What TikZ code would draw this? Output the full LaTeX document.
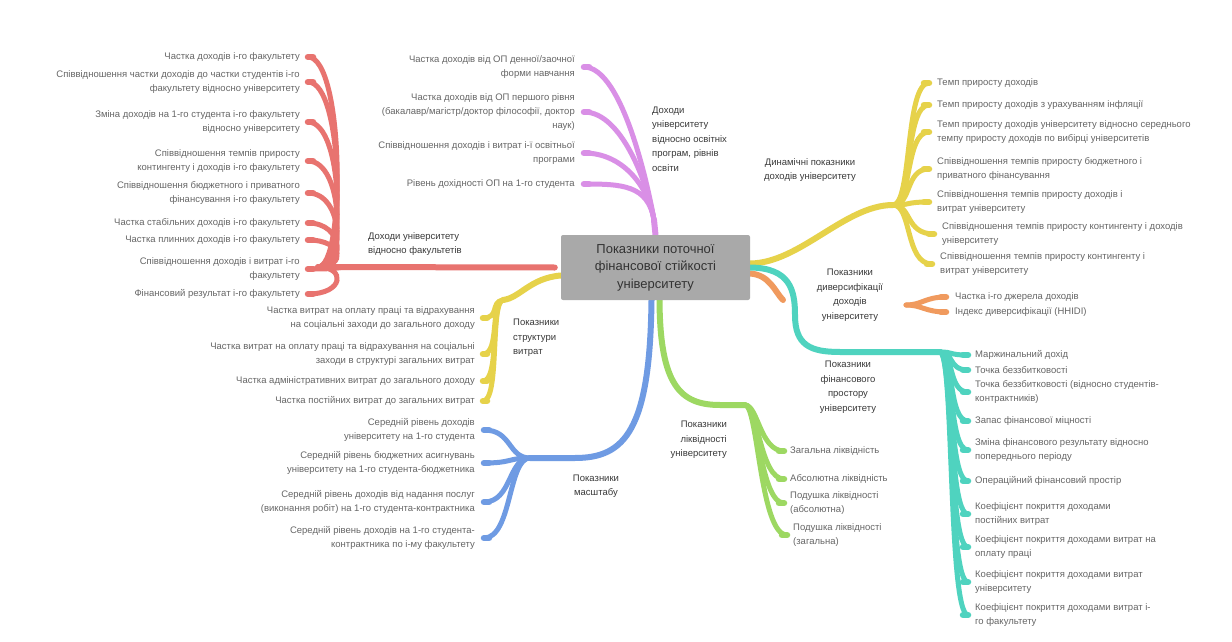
\documentclass[tikz,border=0pt]{standalone}
\usepackage{fontspec}
\setmainfont{Liberation Sans}
\pgfdeclarelayer{background}
\pgfdeclarelayer{canvas}
\pgfsetlayers{canvas,background,main}
\definecolor{cred}{HTML}{E8736F}
\definecolor{cpur}{HTML}{D98FE6}
\definecolor{cyel}{HTML}{E6D24A}
\definecolor{cora}{HTML}{F09A5E}
\definecolor{ctea}{HTML}{4FD3BF}
\definecolor{cblu}{HTML}{6F9BE3}
\definecolor{cgrn}{HTML}{9DD862}
\definecolor{cbox}{HTML}{A9A9A9}
\definecolor{cleaf}{HTML}{666666}
\definecolor{clab}{HTML}{3A3A3A}
\tikzset{
  leafL/.style={anchor=east, align=right, font=\fontsize{9.5}{14}\selectfont, text=cleaf, inner sep=0pt},
  leafR/.style={anchor=west, align=left, font=\fontsize{9.5}{14}\selectfont, text=cleaf, inner sep=0pt},
  lab/.style={font=\fontsize{9.5}{14.5}\selectfont, text=clab, inner sep=0pt},
  br/.style={line width=5pt, line cap=round},
  blob/.style={line width=6.5pt, line cap=round},
  stem/.style={line width=6pt, line cap=round},
  centre/.style={fill=cbox, rounded corners=2pt, minimum width=189pt, minimum height=65pt, align=center, font=\fontsize{13}{17.5}\selectfont, text=black!80, inner sep=2pt}
}
\begin{document}
\begin{tikzpicture}[x=1pt,y=-1pt]
\begin{pgfonlayer}{canvas}
\fill[white] (0,0) rectangle (1232,642);
\end{pgfonlayer}
\useasboundingbox (0,0) rectangle (1232,642);
\node[centre] (c) at (655.5,267.5) {Показники поточної\\фінансової стійкості\\університету};

% red
\node[lab, anchor=west, align=left] (rl) at (368,244) {Доходи університету\\відносно факультетів};
\node[leafL] (r1) at (300,57) {Частка доходів і-го факультету};
\node[leafL] (r2) at (300,82) {Співвідношення частки доходів до частки студентів і-го\\факультету відносно університету};
\node[leafL] (r3) at (300,122) {Зміна доходів на 1-го студента і-го факультету\\відносно університету};
\node[leafL] (r4) at (300,161) {Співвідношення темпів приросту\\контингенту і доходів і-го факультету};
\node[leafL] (r5) at (300,193) {Співвідношення бюджетного і приватного\\фінансування і-го факультету};
\node[leafL] (r6) at (300,223) {Частка стабільних доходів і-го факультету};
\node[leafL] (r7) at (300,240) {Частка плинних доходів і-го факультету};
\node[leafL] (r8) at (300,269) {Співвідношення доходів і витрат і-го\\факультету};
\node[leafL] (r9) at (300,294) {Фінансовий результат і-го факультету};
\coordinate (jr) at (318,267);

% purple
\node[lab, anchor=west, align=left] (pl) at (652,139) {Доходи\\університету\\відносно освітніх\\програм, рівнів\\освіти};
\node[leafL] (p1) at (575,67) {Частка доходів від ОП денної/заочної\\форми навчання};
\node[leafL] (p2) at (575,112) {Частка доходів від ОП першого рівня\\(бакалавр/магістр/доктор філософії, доктор\\наук)};
\node[leafL] (p3) at (575,153) {Співвідношення доходів і витрат і-ї освітньої\\програми};
\node[leafL] (p4) at (575,184) {Рівень дохідності ОП на 1-го студента};
\coordinate (jp) at (654,220);

% yellow dynamic
\node[lab, align=center] (yl) at (810,170) {Динамічні показники\\доходів університету};
\node[leafR] (y1) at (937,83) {Темп приросту доходів};
\node[leafR] (y2) at (937,105) {Темп приросту доходів з урахуванням інфляції};
\node[leafR] (y3) at (937,132) {Темп приросту доходів університету відносно середнього\\темпу приросту доходів по вибірці університетів};
\node[leafR] (y4) at (937,169) {Співвідношення темпів приросту бюджетного і\\приватного фінансування};
\node[leafR] (y5) at (937,202) {Співвідношення темпів приросту доходів і\\витрат університету};
\node[leafR] (y6) at (942,234) {Співвідношення темпів приросту контингенту і доходів\\університету};
\node[leafR] (y7) at (940,264) {Співвідношення темпів приросту контингенту і\\витрат університету};
\coordinate (jy) at (893,205);

% orange
\node[lab, align=center] (ol) at (850,295) {Показники\\диверсифікації\\доходів\\університету};
\node[leafR] (o1) at (955,297) {Частка і-го джерела доходів};
\node[leafR] (o2) at (955,312) {Індекс диверсифікації (HHIDI)};
\coordinate (os) at (783,300);
\coordinate (of) at (906,305);

% teal
\node[lab, align=center] (tl) at (848,387) {Показники\\фінансового\\простору\\університету};
\node[leafR] (t1) at (975,355) {Маржинальний дохід};
\node[leafR] (t2) at (975,370) {Точка беззбитковості};
\node[leafR] (t3) at (975,392) {Точка беззбитковості (відносно студентів-\\контрактників)};
\node[leafR] (t4) at (975,421) {Запас фінансової міцності};
\node[leafR] (t5) at (975,450) {Зміна фінансового результату відносно\\попереднього періоду};
\node[leafR] (t6) at (975,481) {Операційний фінансовий простір};
\node[leafR] (t7) at (975,514) {Коефіцієнт покриття доходами\\постійних витрат};
\node[leafR] (t8) at (975,547) {Коефіцієнт покриття доходами витрат на\\оплату праці};
\node[leafR] (t9) at (975,582) {Коефіцієнт покриття доходами витрат\\університету};
\node[leafR] (t10) at (975,615) {Коефіцієнт покриття доходами витрат і-\\го факультету};
\coordinate (jt) at (940,352);

% yellow structure
\node[lab, anchor=west, align=left] (sl) at (513,338) {Показники\\структури\\витрат};
\node[leafL] (s1) at (475,318) {Частка витрат на оплату праці та відрахування\\на соціальні заходи до загального доходу};
\node[leafL] (s2) at (475,354) {Частка витрат на оплату праці та відрахування на соціальні\\заходи в структурі загальних витрат};
\node[leafL] (s3) at (475,381) {Частка адміністративних витрат до загального доходу};
\node[leafL] (s4) at (475,401) {Частка постійних витрат до загальних витрат};
\coordinate (js) at (503,300);

% blue
\node[lab, align=center] (bl) at (596,486) {Показники\\масштабу};
\node[leafL] (b1) at (475,430) {Середній рівень доходів\\університету на 1-го студента};
\node[leafL] (b2) at (475,463) {Середній рівень бюджетних асигнувань\\університету на 1-го студента-бюджетника};
\node[leafL] (b3) at (475,502) {Середній рівень доходів від надання послуг\\(виконання робіт) на 1-го студента-контрактника};
\node[leafL] (b4) at (475,538) {Середній рівень доходів на 1-го студента-\\контрактника по і-му факультету};
\coordinate (jb) at (530,458);

% green
\node[lab, anchor=east, align=right] (gl) at (727,440) {Показники\\ліквідності\\університету};
\node[leafR] (g1) at (790,451) {Загальна ліквідність};
\node[leafR] (g2) at (790,479) {Абсолютна ліквідність};
\node[leafR] (g3) at (790,503) {Подушка ліквідності\\(абсолютна)};
\node[leafR] (g4) at (793,535) {Подушка ліквідності\\(загальна)};
\coordinate (jg) at (745,405);

\begin{pgfonlayer}{background}
% red
\draw[stem,cred] ([xshift=-6pt]c.west) -- (jr);
\foreach \n in {r1,r2,r3,r4,r5,r6,r7,r8,r9}{
  \draw[br,cred] (jr) .. controls (346,267) and (344,0|-\n.east) .. ([xshift=8pt]\n.east);
  \draw[blob,cred] ([xshift=8pt]\n.east) -- ([xshift=13pt]\n.east);
}
% purple
\draw[stem,cpur] (c.north) -- (jp);
\foreach \n in {p1,p2,p3,p4}{
  \draw[br,cpur] (jp) .. controls (648,185) and (622,0|-\n.east) .. ([xshift=9pt]\n.east);
  \draw[blob,cpur] ([xshift=9pt]\n.east) -- ([xshift=14pt]\n.east);
}
% yellow dynamic
\draw[stem,cyel] ([yshift=4pt]c.east) .. controls (800,263) and (845,205) .. (jy);
\foreach \n in {y1,y2,y3,y4,y5,y6,y7}{
  \draw[br,cyel] (jy) .. controls (912,205) and (905,0|-\n.west) .. ([xshift=-8pt]\n.west);
  \draw[blob,cyel] ([xshift=-8pt]\n.west) -- ([xshift=-13pt]\n.west);
}
% orange
\draw[stem,cora] ([yshift=-6pt]c.east) .. controls (770,275) and (775,292) .. (os);
\foreach \n in {o1,o2}{
  \draw[br,cora] (of) .. controls (922,305) and (925,0|-\n.west) .. ([xshift=-9pt]\n.west);
  \draw[blob,cora] ([xshift=-9pt]\n.west) -- ([xshift=-14pt]\n.west);
}
% teal
\draw[stem,ctea] (c.east) .. controls (790,268) and (795,290) .. (795,315) .. controls (795,345) and (810,352) .. (840,352) -- (jt);
\foreach \n in {t1,t2,t3,t4,t5,t6,t7,t8,t9,t10}{
  \draw[br,ctea] (jt) .. controls (954,352) and (948,0|-\n.west) .. ([xshift=-7pt]\n.west);
  \draw[blob,ctea] ([xshift=-7pt]\n.west) -- ([xshift=-12pt]\n.west);
}
% yellow structure
\draw[stem,cyel] ([yshift=-8pt]c.west) .. controls (530,278) and (520,298) .. (js);
\foreach \n in {s1,s2,s3,s4}{
  \draw[br,cyel] (js) .. controls (490,302) and (500,0|-\n.east) .. ([xshift=8pt]\n.east);
  \draw[blob,cyel] ([xshift=8pt]\n.east) -- ([xshift=12pt]\n.east);
}
% blue
\draw[stem,cblu] ([xshift=-4pt]c.south) .. controls (650,430) and (625,458) .. (575,458) -- (jb);
\foreach \n in {b1,b2,b3,b4}{
  \draw[br,cblu] (jb) .. controls (508,458) and (512,0|-\n.east) .. ([xshift=9pt]\n.east);
  \draw[blob,cblu] ([xshift=9pt]\n.east) -- ([xshift=14pt]\n.east);
}
% green
\draw[stem,cgrn] ([xshift=4pt]c.south) .. controls (660,385) and (680,405) .. (720,405) -- (jg);
\foreach \n in {g1,g2,g3,g4}{
  \draw[br,cgrn] (jg) .. controls (758,405) and (760,0|-\n.west) .. ([xshift=-6pt]\n.west);
  \draw[blob,cgrn] ([xshift=-6pt]\n.west) -- ([xshift=-11pt]\n.west);
}
\end{pgfonlayer}
\end{tikzpicture}
\end{document}
